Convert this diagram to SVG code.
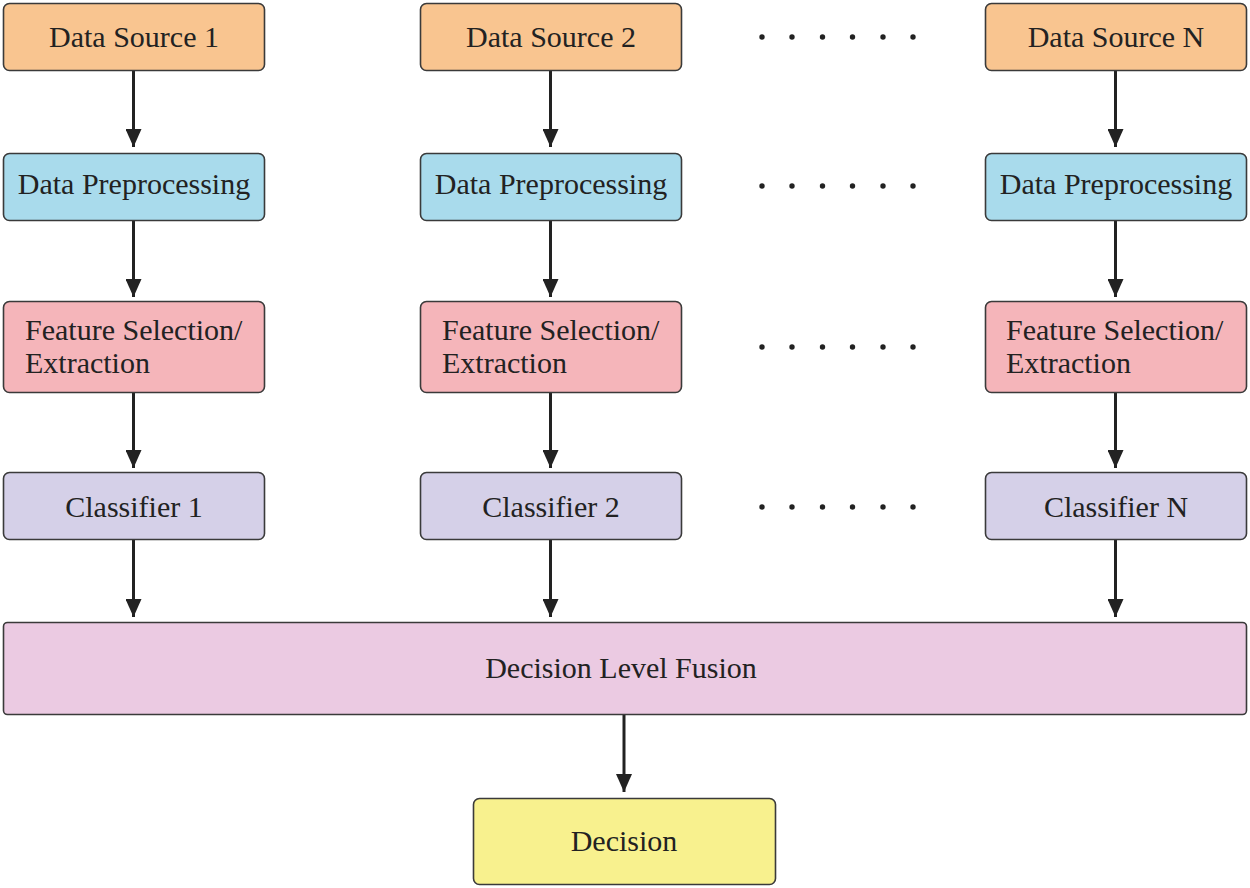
<svg xmlns="http://www.w3.org/2000/svg" width="1250" height="888" viewBox="0 0 1250 888" font-family="Liberation Serif, Times New Roman, serif">
<style>
.b{stroke:#3a3a3a;stroke-width:1.6}
.src{fill:#F9C590}
.pre{fill:#A9DBEC}
.fea{fill:#F5B5BA}
.cls{fill:#D5D0E8}
.fus{fill:#EBCAE2}
.dec{fill:#F8F18E}
.t{font-size:30px;fill:#222}
.c{text-anchor:middle}
.e{stroke:#222;stroke-width:3;fill:none}
.dot{fill:#222}
</style>
<defs>
<marker id="ah" viewBox="0 0 18 16" refX="18" refY="8" markerWidth="18" markerHeight="16" markerUnits="userSpaceOnUse" orient="auto">
<path d="M0,0 L18,8 L0,16 Z" fill="#222"/>
</marker>
</defs>
<rect width="1250" height="888" fill="#fff"/>
<g id="connectors">
<line class="e" x1="133.5" y1="70" x2="133.5" y2="147" marker-end="url(#ah)"/>
<line class="e" x1="133.5" y1="220" x2="133.5" y2="297" marker-end="url(#ah)"/>
<line class="e" x1="133.5" y1="392" x2="133.5" y2="468" marker-end="url(#ah)"/>
<line class="e" x1="133.5" y1="540" x2="133.5" y2="617" marker-end="url(#ah)"/>
<line class="e" x1="550.5" y1="70" x2="550.5" y2="147" marker-end="url(#ah)"/>
<line class="e" x1="550.5" y1="220" x2="550.5" y2="297" marker-end="url(#ah)"/>
<line class="e" x1="550.5" y1="392" x2="550.5" y2="468" marker-end="url(#ah)"/>
<line class="e" x1="550.5" y1="540" x2="550.5" y2="617" marker-end="url(#ah)"/>
<line class="e" x1="1115.5" y1="70" x2="1115.5" y2="147" marker-end="url(#ah)"/>
<line class="e" x1="1115.5" y1="220" x2="1115.5" y2="297" marker-end="url(#ah)"/>
<line class="e" x1="1115.5" y1="392" x2="1115.5" y2="468" marker-end="url(#ah)"/>
<line class="e" x1="1115.5" y1="540" x2="1115.5" y2="617" marker-end="url(#ah)"/>
<line class="e" x1="624" y1="714" x2="624" y2="792" marker-end="url(#ah)"/>
</g>
<g id="dots1"><circle class="dot" cx="762" cy="37" r="2.7"/><circle class="dot" cx="792" cy="37" r="2.7"/><circle class="dot" cx="822.5" cy="37" r="2.7"/><circle class="dot" cx="852.5" cy="37" r="2.7"/><circle class="dot" cx="883" cy="37" r="2.7"/><circle class="dot" cx="913" cy="37" r="2.7"/></g>
<g id="dots2"><circle class="dot" cx="762" cy="186" r="2.7"/><circle class="dot" cx="792" cy="186" r="2.7"/><circle class="dot" cx="822.5" cy="186" r="2.7"/><circle class="dot" cx="852.5" cy="186" r="2.7"/><circle class="dot" cx="883" cy="186" r="2.7"/><circle class="dot" cx="913" cy="186" r="2.7"/></g>
<g id="dots3"><circle class="dot" cx="762" cy="347" r="2.7"/><circle class="dot" cx="792" cy="347" r="2.7"/><circle class="dot" cx="822.5" cy="347" r="2.7"/><circle class="dot" cx="852.5" cy="347" r="2.7"/><circle class="dot" cx="883" cy="347" r="2.7"/><circle class="dot" cx="913" cy="347" r="2.7"/></g>
<g id="dots4"><circle class="dot" cx="762" cy="507" r="2.7"/><circle class="dot" cx="792" cy="507" r="2.7"/><circle class="dot" cx="822.5" cy="507" r="2.7"/><circle class="dot" cx="852.5" cy="507" r="2.7"/><circle class="dot" cx="883" cy="507" r="2.7"/><circle class="dot" cx="913" cy="507" r="2.7"/></g>
<g id="src1"><rect class="b src" x="3.5" y="3.5" width="261" height="67" rx="6"/><text class="t c" x="134" y="47">Data Source 1</text></g>
<g id="src2"><rect class="b src" x="420.5" y="3.5" width="261" height="67" rx="6"/><text class="t c" x="551" y="47">Data Source 2</text></g>
<g id="srcN"><rect class="b src" x="985.5" y="3.5" width="261" height="67" rx="6"/><text class="t c" x="1116" y="47">Data Source N</text></g>
<g id="pre1"><rect class="b pre" x="3.5" y="153.5" width="261" height="67" rx="6"/><text class="t c" x="134" y="194">Data Preprocessing</text></g>
<g id="pre2"><rect class="b pre" x="420.5" y="153.5" width="261" height="67" rx="6"/><text class="t c" x="551" y="194">Data Preprocessing</text></g>
<g id="preN"><rect class="b pre" x="985.5" y="153.5" width="261" height="67" rx="6"/><text class="t c" x="1116" y="194">Data Preprocessing</text></g>
<g id="fea1"><rect class="b fea" x="3.5" y="301.5" width="261" height="91" rx="6"/><text class="t" x="25" y="340">Feature Selection/</text><text class="t" x="25" y="373">Extraction</text></g>
<g id="fea2"><rect class="b fea" x="420.5" y="301.5" width="261" height="91" rx="6"/><text class="t" x="442" y="340">Feature Selection/</text><text class="t" x="442" y="373">Extraction</text></g>
<g id="feaN"><rect class="b fea" x="985.5" y="301.5" width="261" height="91" rx="6"/><text class="t" x="1006" y="340">Feature Selection/</text><text class="t" x="1006" y="373">Extraction</text></g>
<g id="cls1"><rect class="b cls" x="3.5" y="472.5" width="261" height="67" rx="6"/><text class="t c" x="134" y="517">Classifier 1</text></g>
<g id="cls2"><rect class="b cls" x="420.5" y="472.5" width="261" height="67" rx="6"/><text class="t c" x="551" y="517">Classifier 2</text></g>
<g id="clsN"><rect class="b cls" x="985.5" y="472.5" width="261" height="67" rx="6"/><text class="t c" x="1116" y="517">Classifier N</text></g>
<g id="fusion"><rect class="b fus" x="3.5" y="622.5" width="1243" height="92" rx="4"/><text class="t c" x="621" y="678">Decision Level Fusion</text></g>
<g id="decision"><rect class="b dec" x="473.5" y="798.5" width="302" height="86" rx="6"/><text class="t c" x="624" y="851">Decision</text></g>
</svg>
